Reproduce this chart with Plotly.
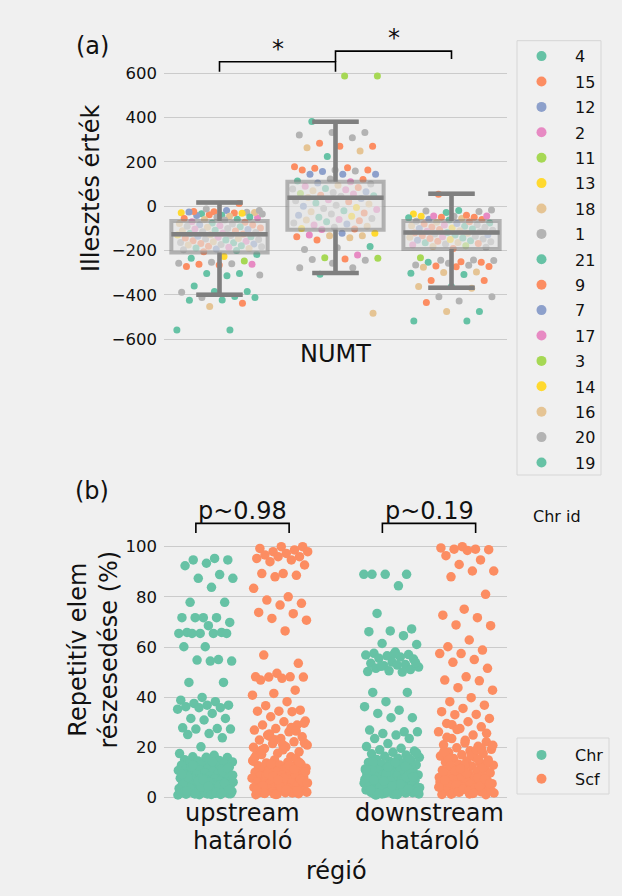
import plotly.graph_objects as go

# ---------------- data ----------------
chr_ids = ["4", "15", "12", "2", "11", "13", "18", "1", "21", "9", "7", "17", "3", "14", "16", "20", "19"]
set2 = ["#66c2a5", "#fc8d62", "#8da0cb", "#e78ac3", "#a6d854", "#ffd92f", "#e5c494", "#b3b3b3"]

# panel (a): three groups of fit values with chromosome ids
left_vals = [13, -12, -19, -19, -23, -27, -25, -29, -30, -34, -28, -40, -26, -32, -38, -35, -45, -42, -48, -50,
             -55, -58, -60, -52, -62,
             -70, -72, -75, -78, -80, -83, -85, -88, -90, -92, -95, -98, -100, -103, -105, -108, -110, -112, -115,
             -118, -120, -122, -125, -128, -130, -132, -135, -138, -140, -143, -145, -148, -150, -152, -155, -158,
             -160, -163, -165, -168, -170, -172, -175, -178, -180, -183, -185, -188, -190, -193, -196, -200, -205,
             -217, -226, -235, -247, -253, -257, -259, -262, -262, -265, -272, -303, -303, -310, -313, -360, -385,
             -385, -388, -407, -412, -412, -423, -424, -438, -452, -558, -558]
left_chr = ["15", "1", "20", "12", "9", "1", "15", "13", "9", "4", "18", "21", "7", "14", "15", "20", "16", "12", "19", "1",
            "9", "4", "18", "2", "20",
            "17", "15", "4", "18", "1", "12", "9", "2", "20", "21", "16", "15", "1", "17", "7", "19", "18", "9", "20",
            "1", "2", "4", "15", "16", "13", "20", "12", "21", "17", "9", "18", "1", "20", "19", "15", "2",
            "16", "1", "4", "9", "7", "20", "18", "21", "15", "1", "17", "19", "16", "12", "20", "4", "9",
            "21", "14", "4", "11", "1", "20", "1", "15", "2", "9", "15", "19", "4", "20", "21", "4", "19",
            "21", "1", "4", "20", "21", "19", "4", "15", "18", "21", "4"]

mid_vals = [588, 588, 382, 333, 333, 321, 309, 284, 271, 271, 264, 249, 224, 178, 174, 171, 164, 164, 164, 159,
            157, 144, 144, 144, 121, 123, 114, 111,
            105, 100, 95, 90, 85, 80, 78, 75, 70, 65, 62, 58, 55, 50, 48, 45, 40, 35, 30, 25, 20, 15, 10, 5, 0,
            -5, -10, -15, -20, -25, -30, -35, -40, -45, -50, -55, -60, -62, -65, -70, -75, -80, -85, -90, -95,
            -100, -103, -105,
            -122, -122, -130, -133, -133, -137, -142, -152, -182, -187, -195, -220, -232, -235, -238, -240, -243,
            -257, -277, -277, -307, -483]
mid_chr = ["11", "3", "21", "1", "20", "1", "20", "15", "9", "15", "18", "16", "4", "15", "9", "15", "9", "1", "15", "20",
           "12", "7", "12", "7", "9", "1", "19", "2",
           "12", "20", "18", "17", "15", "4", "1", "2", "16", "7", "20", "11", "17", "9", "21", "1", "18", "12", "2",
           "20", "15", "19", "16", "1", "7",
           "13", "20", "17", "4", "18", "9", "1", "12", "14", "21", "20", "2", "16", "15", "19", "1", "7", "17",
           "18", "20", "13", "9", "2",
           "14", "12", "17", "16", "18", "15", "16", "9", "4", "1", "20", "2", "3", "11", "15", "1", "20",
           "1", "20", "1", "19", "18"]

right_vals = [54, -17, -19, -21, -24, -28, -35, -40, -44, -44, -45, -45, -50, -50, -52, -55, -59, -60, -62,
              -68, -70, -72, -75, -78, -80, -83, -85, -88, -90, -93, -95, -98, -100, -103, -105, -108, -110, -113,
              -115, -118, -120, -122, -125, -128, -130, -133, -135, -138, -140, -143, -145, -148, -150, -153, -155,
              -158, -160, -163, -165, -168, -170, -175, -178, -182, -185, -190,
              -232, -242, -244, -245, -250, -253, -253, -257, -265, -266, -269, -272, -273, -275, -297, -299, -302,
              -308, -335, -335, -362, -362, -370, -408, -408, -427, -434, -475, -475, -517, -517]
right_chr = ["15", "20", "4", "1", "20", "21", "13", "9", "2", "17", "1", "14", "15", "9", "19", "18", "12", "15", "4",
             "20", "9", "16", "21", "7", "15", "1", "2", "18", "4", "9", "20", "13", "12", "19", "15", "1", "16", "17",
             "20", "21", "9", "18", "1", "7", "4", "15", "20", "2", "16", "19", "9", "1", "14", "12", "21",
             "15", "20", "18", "4", "9", "1", "17", "3", "16", "20", "15",
             "11", "1", "20", "1", "9", "4", "15", "20", "1", "20", "9", "15", "9", "18", "16", "18", "21",
             "19", "15", "9", "4", "16", "18", "1", "20", "1", "15", "21", "16", "19", "4"]

box_q1 = [-208, -106, -193]
box_median = [-126, 39, -118]
box_q3 = [-66, 111, -66]
box_lower = [-399, -301, -367]
box_upper = [17, 381, 57]

# panel (b): repetitive element share (%) by region and sequence type
chr_up = [95.3, 94.7, 94.7, 93.4, 92.4, 88.9, 87.4, 87.4, 83.8, 77.8, 77.8, 71.7, 71.7, 71.7, 71.7, 69.8, 68.5, 65.8,
          65.8, 65.4, 65.4, 65.4, 65.4, 65.4, 60.1, 60.1, 55.0, 54.8, 54.4, 54.4, 45.9, 45.9, 39.9, 38.8, 38.2, 37.5,
          36.8, 36.8, 36.2, 35.8, 35.8, 35.2, 33.5, 31.5, 31.5, 30.9, 27.8, 27.5, 27.3, 27.3, 25.5, 25.1, 23.8, 20.2,
          17.5, 16.8, 16.2, 15.9, 15.5, 15.1, 14.8, 14.6, 14.2, 14.0, 13.7, 13.5, 13.2, 12.9, 12.6, 12.4, 12.1, 11.8,
          11.5, 11.3, 11.0, 10.8, 10.5, 10.2, 10.0, 9.8, 9.5, 9.3, 9.0, 8.8, 8.6, 8.4, 8.1, 7.9, 7.7, 7.5, 7.3, 7.1,
          6.9, 6.7, 6.5, 6.3, 6.1, 5.9, 5.7, 5.5, 5.3, 5.1, 4.9, 4.7, 4.5, 4.3, 4.1, 3.9, 3.8, 3.6, 3.4, 3.3, 3.1,
          3.0, 2.8, 2.7, 2.5, 2.4, 2.2, 2.1, 2.0, 1.9, 1.8, 1.7, 1.6, 1.5, 1.4, 1.3, 1.2, 1.1, 1.0, 14.3, 12.2, 9.7,
          7.2, 5.2, 3.5, 2.3, 1.5, 6.0, 8.0, 10.6, 4.2, 2.9, 1.9, 13.0, 11.6, 16.0, 2.6, 4.8, 6.6, 8.9, 1.2, 3.7,
          5.6, 7.0, 9.2, 2.0, 1.4, 3.2, 4.4, 2.5, 1.7]
scf_up = [100, 100, 99.3, 98.7, 98.0, 98.0, 97.3, 96.7, 96.0, 96.0, 95.3, 94.7, 94.0, 92.7, 89.3, 89.3, 88.6, 88.0,
          83.4, 80.0, 78.7, 77.4, 76.7, 73.8, 73.3, 71.4, 70.7, 66.4, 56.8, 53.5, 49.5, 48.1, 48.1, 48.0, 48.0, 47.5,
          46.8, 42.8, 41.5, 40.8, 38.2, 36.6, 34.8, 34.4, 34.4, 34.2, 32.2, 30.5, 30.2, 28.9, 28.9, 27.5, 26.9, 26.2,
          24.9, 24.2, 23.5, 22.9, 22.2, 21.5, 20.9, 20.2, 19.5, 18.2, 17.6, 16.9, 16.2, 25.3, 29.6, 21.1, 18.8,
          15.4, 15.0, 14.5, 14.1, 13.8, 13.3, 13.0, 12.7, 12.3, 12.0, 11.7, 11.4, 11.1, 10.7, 10.4, 10.1, 9.8, 9.5,
          9.2, 8.9, 8.6, 8.3, 8.0, 7.7, 7.4, 7.1, 6.8, 6.5, 6.2, 5.9, 5.6, 5.3, 5.0, 4.8, 4.5, 4.2, 4.0, 3.7, 3.5,
          3.2, 3.0, 2.8, 2.5, 2.3, 2.1, 1.9, 1.7, 1.5, 1.3, 1.1, 12.5, 10.9, 8.1, 6.0, 3.9, 2.2, 1.4, 14.7, 11.9,
          9.0, 7.3, 5.4, 3.3, 1.8, 13.4, 10.3, 7.8, 4.6, 2.6, 1.2, 15.8, 12.8, 9.6, 6.4, 4.1, 2.0, 11.2, 8.4, 5.8,
          3.1, 1.6, 14.0, 6.9, 2.9, 27.9, 24.4, 21.8, 19.0, 17.1, 26.5, 23.0, 20.0]
chr_down = [89.0, 89.0, 89.0, 89.0, 84.4, 73.4, 67.2, 66.4, 66.1, 64.5, 61.4, 61.0, 58.0, 57.5, 57.0, 56.5, 56.8,
            56.0, 55.5, 55.2, 54.0, 53.5, 53.0, 52.5, 52.0, 52.8, 51.5, 51.0, 50.5, 50.2, 50.0, 52.3, 53.8, 57.2,
            41.9, 41.9, 38.2, 36.2, 34.8, 33.5, 31.8, 31.8, 26.9, 26.2, 25.5, 26.2, 24.9, 23.5, 23.5, 21.5,
            20.3, 19.6, 19.0, 18.5, 18.0, 17.4, 16.9, 16.4, 16.0, 15.6, 15.2, 14.8, 14.4, 14.0, 13.7, 13.3, 13.0,
            12.7, 12.3, 12.0, 11.7, 11.4, 11.1, 10.8, 10.5, 10.2, 9.9, 9.6, 9.3, 9.0, 8.7, 8.4, 8.2, 7.9, 7.6,
            7.4, 7.1, 6.9, 6.6, 6.4, 6.1, 5.9, 5.7, 5.4, 5.2, 5.0, 4.8, 4.6, 4.4, 4.2, 4.0, 3.8, 3.6, 3.4, 3.2,
            3.0, 2.8, 2.6, 2.4, 2.2, 2.0, 1.8, 1.6, 1.4, 1.2, 1.0, 12.9, 10.6, 8.6, 6.3, 4.5, 2.9, 1.5, 14.2, 11.5,
            9.4, 7.2, 5.1, 3.3, 1.9, 13.5, 10.0, 7.7, 5.5, 3.7, 2.3, 1.1, 15.4, 12.1, 8.9, 6.0, 4.1, 2.5, 1.3,
            11.0, 8.0, 5.8, 3.9, 2.1, 1.7, 9.7, 6.7, 4.3, 2.7, 1.4, 17.8, 13.9, 7.0, 3.5, 2.0, 10.9, 5.3, 1.6, 8.3,
            4.7, 3.1, 12.4, 6.5, 2.4, 1.2]
scf_down = [100, 99.5, 99.0, 99.0, 98.8, 98.5, 96.4, 94.7, 92.9, 90.3, 90.3, 88.0, 81.0, 75.1, 72.7, 71.7, 68.8,
            68.5, 62.8, 60.1, 58.8, 57.4, 57.4, 55.0, 53.9, 51.5, 48.1, 46.8, 46.5, 43.8, 42.8, 39.8, 38.2, 36.8,
            35.5, 34.2, 33.1, 33.0, 31.5, 30.2, 29.5, 28.2, 27.5, 26.2, 24.9, 23.5, 22.2, 21.8, 21.0, 20.4, 19.8,
            19.2, 18.6, 18.0, 17.5, 17.0, 16.5, 16.0, 15.5, 15.0, 14.6, 14.1, 13.7, 13.3, 12.9, 12.5, 12.1, 11.7,
            11.3, 10.9, 10.5, 10.1, 9.8, 9.4, 9.0, 8.7, 8.3, 8.0, 7.6, 7.3, 7.0, 6.7, 6.4, 6.1, 5.8, 5.5, 5.2,
            4.9, 4.6, 4.3, 4.0, 3.7, 3.4, 3.1, 2.9, 2.6, 2.3, 2.1, 1.8, 1.6, 1.3, 1.1, 13.0, 10.3, 7.8, 5.0, 2.7,
            1.4, 15.8, 11.9, 8.6, 6.2, 3.6, 1.9, 14.3, 9.6, 6.9, 4.4, 2.2, 20.8, 16.8, 12.7, 7.4, 3.3, 1.2, 18.9,
            10.7, 5.6, 2.5, 24.0, 19.5, 11.5, 4.1, 1.7, 29.0, 25.6, 22.8, 18.2, 15.2, 27.1]

# ---------------- helpers (layout only) ----------------
W, H = 622, 896


def fx(px):
    return px / W


def fy(px):
    return 1 - px / H


def jitter(n, half, seed_offset=0.0):
    # deterministic low-discrepancy spread for strip-plot jitter
    return [(((i + 1) * 0.6180339887 + seed_offset) % 1.0 * 2 - 1) * half for i in range(n)]


BG = "#f0f0f0"
GRID = "#cbcbcb"
TXT = "#111111"
FONT = "DejaVu Sans"
LEG_BORDER = "#d6d6d6"
color_of = {c: set2[i % len(set2)] for i, c in enumerate(chr_ids)}

fig = go.Figure()

# ---------------- panel (a) points ----------------
groups = [(-1, left_vals, left_chr, 0.11), (0, mid_vals, mid_chr, 0.37), (1, right_vals, right_chr, 0.73)]
pts = {c: ([], []) for c in chr_ids}
for pos, vals, chrs, off in groups:
    jit = jitter(len(vals), 0.37, off)
    for v, c, j in zip(vals, chrs, jit):
        pts[c][0].append(pos + j)
        pts[c][1].append(v)

for c in chr_ids:
    xs, ys = pts[c]
    fig.add_trace(go.Scatter(x=xs, y=ys, mode="markers", xaxis="x", yaxis="y",
                             marker=dict(size=7, color=color_of[c], line=dict(width=0)),
                             showlegend=False, hoverinfo="skip"))
    fig.add_trace(go.Scatter(x=[None], y=[None], mode="markers", xaxis="x", yaxis="y", name=c,
                             legendgroup="chr" + c,
                             marker=dict(size=10, color=color_of[c]), legend="legend", showlegend=True))

# ---------------- panel (a) boxes (overlay subplot so they sit above points) ----------------
box_pos = [-1, 0, 1]
fig.add_trace(go.Box(x=box_pos, q1=box_q1, median=box_median, q3=box_q3,
                     lowerfence=box_lower, upperfence=box_upper, width=0.83, whiskerwidth=0.48,
                     fillcolor="rgba(226,226,226,0.62)", line=dict(color="rgba(128,128,128,0.55)", width=4),
                     boxpoints=False, xaxis="x", yaxis="y3", showlegend=False, hoverinfo="skip"))
wx, wy = [], []
for p, q1, md, q3, lo, up in zip(box_pos, box_q1, box_median, box_q3, box_lower, box_upper):
    wx += [p - 0.415, p + 0.415, None, p, p, None, p, p, None, p - 0.2, p + 0.2, None, p - 0.2, p + 0.2, None]
    wy += [md, md, None, q3, up, None, q1, lo, None, up, up, None, lo, lo, None]
fig.add_trace(go.Scatter(x=wx, y=wy, mode="lines", xaxis="x", yaxis="y3",
                         line=dict(color="#7f7f7f", width=4.5), showlegend=False, hoverinfo="skip"))

# significance brackets panel (a)
brackets_a = [(-1, 0, 607, 607, 652, "*"), (0, 1, 652, 664, 700, "*")]
bx, by = [], []
for x1, x2, y1, y2, yt, lab in brackets_a:
    bx += [x1, x1, x2, x2, None]
    by += [y1, yt, yt, y2, None]
fig.add_trace(go.Scatter(x=bx, y=by, mode="lines", xaxis="x", yaxis="y3",
                         line=dict(color="black", width=1.6), showlegend=False, hoverinfo="skip"))

# ---------------- panel (b) points ----------------
bottom_groups = [(0 - 0.2, chr_up, "Chr", 0.05), (0 + 0.2, scf_up, "Scf", 0.29),
                 (1 - 0.2, chr_down, "Chr", 0.53), (1 + 0.2, scf_down, "Scf", 0.81)]
for center, vals, kind, off in bottom_groups:
    jit = jitter(len(vals), 0.15, off)
    fig.add_trace(go.Scatter(x=[center + j for j in jit], y=vals, mode="markers", xaxis="x2", yaxis="y2",
                             marker=dict(size=9.5, color=set2[0] if kind == "Chr" else set2[1], line=dict(width=0)),
                             showlegend=False, hoverinfo="skip"))
for i, kind in enumerate(["Chr", "Scf"]):
    fig.add_trace(go.Scatter(x=[None], y=[None], mode="markers", xaxis="x2", yaxis="y2", name=kind,
                             marker=dict(size=10, color=set2[i]), legend="legend2", showlegend=True))

brackets_b = [(-0.25, 0.25, 105.5, 105.5, 109.3, "p~0.98"), (0.75, 1.25, 105.5, 105.5, 109.3, "p~0.19")]
bx, by = [], []
for x1, x2, y1, y2, yt, lab in brackets_b:
    bx += [x1, x1, x2, x2, None]
    by += [y1, yt, yt, y2, None]
fig.add_trace(go.Scatter(x=bx, y=by, mode="lines", xaxis="x2", yaxis="y2",
                         line=dict(color="black", width=1.6), showlegend=False, hoverinfo="skip"))

# ---------------- layout ----------------
xdom = [fx(164), fx(507)]
top_dom = [fy(341.5), fy(30)]
bot_dom = [fy(805), fy(490)]

yt_vals = [-600, -400, -200, 0, 200, 400, 600]
yt_text = [("\u2212" + str(-v)) if v < 0 else str(v) for v in yt_vals]
yb_vals = [0, 20, 40, 60, 80, 100]

common_y = dict(showgrid=True, gridcolor=GRID, gridwidth=1.2, zeroline=False, showline=False, ticks="",
                tickfont=dict(size=16.5, color=TXT, family=FONT), ticklabelstandoff=6, automargin=False)
common_x = dict(showgrid=False, zeroline=False, showline=False, ticks="", showticklabels=False, automargin=False)

legend_common = dict(xanchor="left", yanchor="top", bgcolor="rgba(0,0,0,0)", borderwidth=0,
                     font=dict(size=16, family=FONT, color=TXT), itemwidth=57)

fig.update_layout(
    width=W, height=H, autosize=False,
    margin=dict(l=0, r=0, t=0, b=0, autoexpand=False),
    paper_bgcolor=BG, plot_bgcolor=BG,
    font=dict(family=FONT, color=TXT),
    xaxis=dict(domain=xdom, range=[-1.4784, 1.4784], anchor="y", **common_x),
    yaxis=dict(domain=top_dom, range=[-610, 795.2], anchor="x", tickvals=yt_vals, ticktext=yt_text, **common_y),
    yaxis3=dict(overlaying="y", range=[-610, 795.2], anchor="x", visible=False, showgrid=False),
    xaxis2=dict(domain=xdom, range=[-0.4209, 1.4182], anchor="y2", **common_x),
    yaxis2=dict(domain=bot_dom, range=[-2.99, 122.6], anchor="x2", tickvals=yb_vals,
                ticktext=[str(v) for v in yb_vals], **common_y),
    legend=dict(x=fx(508), y=fy(39.2), tracegroupgap=1.6, **legend_common),
    legend2=dict(x=fx(508), y=fy(738), tracegroupgap=0, **legend_common),
    showlegend=True,
    shapes=[
        dict(type="rect", xref="paper", yref="paper", x0=fx(517), x1=fx(601), y0=fy(475), y1=fy(40.7),
             line=dict(color=LEG_BORDER, width=1), fillcolor="rgba(0,0,0,0)", layer="above"),
        dict(type="rect", xref="paper", yref="paper", x0=fx(517), x1=fx(609), y0=fy(794), y1=fy(738),
             line=dict(color=LEG_BORDER, width=1), fillcolor="rgba(0,0,0,0)", layer="above"),
    ],
)

ann = []


def add_text(text, x, y, size=24, xref="paper", yref="paper", angle=0, xanchor="center", yanchor="middle",
             yshift=0):
    ann.append(dict(text=text, x=x, y=y, xref=xref, yref=yref, showarrow=False, textangle=angle,
                    xanchor=xanchor, yanchor=yanchor, yshift=yshift,
                    font=dict(size=size, family=FONT, color=TXT)))


add_text("(a)", fx(92), fy(46))
add_text("(b)", fx(92), fy(491))
add_text("Illesztés érték", fx(91), fy(189), angle=-90)
add_text("Repetitív elem<br>részesedése (%)", fx(92.5), fy(650), angle=-90)
add_text("NUMT", 0, fy(354), xref="x")
add_text("upstream", 0, fy(813), xref="x2")
add_text("határoló", 0, fy(841), xref="x2")
add_text("downstream", 1, fy(813), xref="x2")
add_text("határoló", 1, fy(841), xref="x2")
add_text("régió", fx(336), fy(871))
add_text("Chr id", fx(557), fy(516), size=16)
for x1, x2, y1, y2, yt, lab in brackets_a:
    add_text(lab, (x1 + x2) / 2, yt, xref="x", yref="y", yanchor="bottom", yshift=-3)
for x1, x2, y1, y2, yt, lab in brackets_b:
    add_text(lab, (x1 + x2) / 2, yt, xref="x2", yref="y2", yanchor="bottom", yshift=-4)

fig.update_layout(annotations=ann)
fig.write_html("out.html", config={"displayModeBar": False},
               post_script="document.body.style.margin='0';document.body.style.padding='0';")
